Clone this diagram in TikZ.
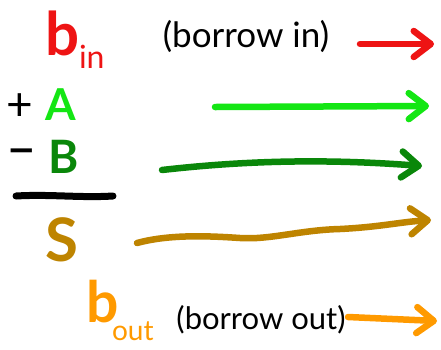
\documentclass[tikz,border=0pt]{standalone}
\usepackage{fontspec}
\setmainfont{Lato}
\newfontfamily\symfont{DejaVu Sans}
\usetikzlibrary{arrows.meta}
\definecolor{cred}{RGB}{238,20,20}
\definecolor{clime}{RGB}{20,230,20}
\definecolor{cdgreen}{RGB}{10,135,10}
\definecolor{cochre}{RGB}{190,132,0}
\definecolor{corange}{RGB}{255,154,0}
\tikzset{
  txt/.style={inner sep=0pt, outer sep=0pt},
  big/.style={txt, font=\fontsize{#1}{#1}\selectfont\bfseries},
  thin/.style={txt, font=\fontsize{#1}{#1}\selectfont},
  harrow/.style={line width=6.5pt, line cap=round, line join=round,
    -{Straight Barb[length=17pt,width=26pt,round]}},
}
\begin{document}
\begin{tikzpicture}[x=1pt,y=-1pt]
\useasboundingbox[fill=white] (0,0) rectangle (441,349);
% row 1: borrow in
\node[big=60, text=cred, anchor=base west] (bin) at (45,55) {b};
\node[thin=32, text=cred, anchor=base west] (binsub) at (79,68) {in};
\node[thin=35, anchor=base] (bintxt) at (246,47) {(borrow in)};
\coordinate (r1s) at (360,44);
\coordinate (r1e) at (434,44);
\draw[harrow, cred] (r1s) -- (r1e);
% row 2: + A
\node[thin=46, anchor=center] (plus) at (20,107) {+};
\node[big=44, text=clime, anchor=base] (A) at (61,120) {A};
\coordinate (r2s) at (215,107);
\coordinate (r2e) at (429,106);
\draw[harrow, clime] (r2s) -- (r2e);
% row 3: - B
\node[txt, font=\symfont\bfseries\fontsize{34}{34}\selectfont, anchor=center] (minus) at (22,155) {−};
\node[big=46, text=cdgreen, anchor=base] (B) at (64,173) {B};
\coordinate (r3s) at (162,170);
\coordinate (r3e) at (422,166);
\draw[harrow, cdgreen] (r3s) .. controls (250,160) and (330,159) .. (r3e);
% sum line
\coordinate (ls) at (16,196);
\coordinate (le) at (113,196);
\draw[line width=7pt, line cap=round] (ls) .. controls (50,194) and (80,198) .. (le);
% row 4: S
\node[big=60, text=cochre, anchor=base] (S) at (62,261) {S};
\coordinate (r4s) at (137,243);
\coordinate (r4e) at (431,220);
\draw[harrow, cochre] (r4s) .. controls (170,234) and (210,236) .. (240,238)
  .. controls (270,240) and (300,230) .. (340,229)
  .. controls (380,227) and (400,222) .. (r4e);
% row 5: borrow out
\node[big=57, text=corange, anchor=base west] (bout) at (86,322) {b};
\node[thin=28, text=corange, anchor=base west] (boutsub) at (112,340) {out};
\node[thin=31, anchor=base] (bouttxt) at (261,329) {(borrow out)};
\coordinate (r5s) at (348,317);
\coordinate (r5e) at (437,321);
\draw[harrow, corange] (r5s) -- (r5e);
\end{tikzpicture}
\end{document}
